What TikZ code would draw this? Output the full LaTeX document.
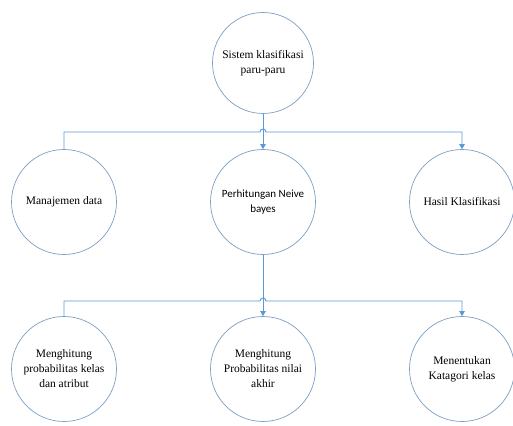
\documentclass[tikz,border=0pt]{standalone}
\usepackage{fontspec}
\setmainfont{Liberation Serif}
\newfontfamily\calibrifont{Carlito}
\usepackage{tikz}
\usetikzlibrary{arrows.meta,positioning,calc}
\definecolor{wireblue}{RGB}{91,155,213}
\definecolor{ringblue}{RGB}{125,160,196}

\begin{document}
\begin{tikzpicture}[
  x=1pt, y=1pt,
  proc/.style={circle, draw=ringblue, line width=0.7pt, fill=white, minimum size=105pt, inner sep=0pt, align=center, font=\fontsize{11.5}{15}\selectfont},
  toproc/.style={circle, draw=ringblue, line width=0.7pt, fill=white, minimum size=101pt, inner sep=0pt, align=center, font=\fontsize{11.5}{15}\selectfont},
  wire/.style={draw=wireblue, line width=0.9pt},
  arrow/.style={wire, -{Triangle[width=5.5pt,length=5pt]}}
]
  \useasboundingbox (0,0) rectangle (513,425);
  \node[toproc] (sistem) at (263,362) {Sistem klasifikasi\\paru-paru};
  \node[proc] (manajemen) at (64,223) {Manajemen data};
  \node[proc, font=\calibrifont\fontsize{11}{15}\selectfont] (hitung) at (263,223) {Perhitungan Neive\\bayes};
  \node[proc] (hasil) at (462,223) {Hasil Klasifikasi};
  \node[proc] (probkelas) at (64,56) {Menghitung\\probabilitas kelas\\dan atribut};
  \node[proc] (probakhir) at (263,56) {Menghitung\\Probabilitas nilai\\akhir};
  \node[proc] (kategori) at (462,56) {Menentukan\\Katagori kelas};
  \coordinate (busatas) at (263,293);
  \coordinate (busbawah) at (263,124);
  \draw[arrow] (sistem.south) -- (hitung.north);
  \draw[arrow] (manajemen.north) |- ([xshift=-3pt]busatas) arc[start angle=180, end angle=0, radius=3pt] -| (hasil.north);
  \draw[arrow] (hitung.south) -- (probakhir.north);
  \draw[arrow] (probkelas.north) |- ([xshift=-3pt]busbawah) arc[start angle=180, end angle=0, radius=3pt] -| (kategori.north);
\end{tikzpicture}
\end{document}
